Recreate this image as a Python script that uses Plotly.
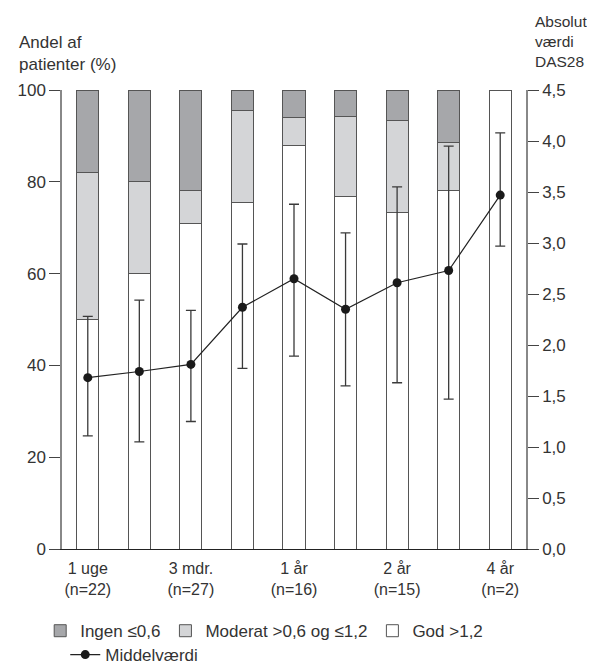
import plotly.graph_objects as go

# ---- data ----
tick_labels = ["1 uge<br>(n=22)", "", "3 mdr.<br>(n=27)", "", "1 år<br>(n=16)", "",
               "2 år<br>(n=15)", "", "4 år<br>(n=2)"]
god = [50, 60, 71, 75.5, 88, 76.8, 73.3, 78, 100]          # % God >1,2
moderat = [32, 20, 7, 20, 6, 17.4, 20, 10.5, 0]             # % Moderat
ingen = [18, 20, 22, 4.5, 6, 5.8, 6.7, 11.5, 0]             # % Ingen
mean_das = [1.68, 1.74, 1.81, 2.37, 2.65, 2.35, 2.61, 2.73, 3.47]
upper_das = [2.28, 2.44, 2.34, 2.99, 3.38, 3.10, 3.55, 3.95, 4.08]
lower_das = [1.11, 1.05, 1.25, 1.77, 1.89, 1.60, 1.63, 1.47, 2.97]

x = list(range(len(god)))
FONT = "Liberation Sans, Arial, sans-serif"
TXT = "#333333"
OUT = "#555555"
BW = 0.43

fig = go.Figure()
fig.add_bar(x=x, y=god, name="God >1,2", width=BW,
            marker=dict(color="#ffffff", line=dict(color=OUT, width=1)))
fig.add_bar(x=x, y=moderat, name="Moderat >0,6 og ≤1,2", width=BW,
            marker=dict(color="#d4d5d7", line=dict(color=OUT, width=1)))
fig.add_bar(x=x, y=ingen, name="Ingen ≤0,6", width=BW,
            marker=dict(color="#a6a7aa", line=dict(color=OUT, width=1)))
fig.add_scatter(
    x=x, y=mean_das, yaxis="y2", mode="lines+markers", name="Middelværdi",
    legend="legend2",
    line=dict(color="#222222", width=1.2),
    marker=dict(size=9, color="#1a1a1a"),
    error_y=dict(type="data", symmetric=False,
                 array=[u - m for u, m in zip(upper_das, mean_das)],
                 arrayminus=[m - l for m, l in zip(mean_das, lower_das)],
                 color="#3a3a3a", thickness=1.3, width=5),
)

fig.update_layout(
    width=587, height=658,
    margin=dict(l=54, r=69, t=82, b=117, autoexpand=False),
    barmode="stack",
    plot_bgcolor="white", paper_bgcolor="white",
    separators=", ",
    font=dict(family=FONT, size=17, color=TXT),
    xaxis=dict(range=[-0.5, 8.5], tickvals=x, ticktext=tick_labels,
               showline=True, linecolor="#222222", linewidth=1.2,
               ticks="", showgrid=False, zeroline=False,
               tickfont=dict(size=16), ticklabelstandoff=5),
    yaxis=dict(range=[0, 100], tickvals=[0, 20, 40, 60, 80, 100],
               ticks="outside", ticklen=11, tickcolor="#444444", tickwidth=1.2,
               showline=True, linecolor="#888888", linewidth=1.5,
               showgrid=False, zeroline=False),
    yaxis2=dict(overlaying="y", side="right", range=[0, 4.5], dtick=0.5,
                tickformat=".1f", ticks="outside", ticklen=11,
                tickcolor="#444444", tickwidth=1.2,
                showline=True, linecolor="#888888", linewidth=1.5,
                showgrid=False, zeroline=False),
    legend=dict(orientation="h", traceorder="reversed",
                x=-0.047, xanchor="left", y=-0.179, yanchor="middle",
                font=dict(size=17), bgcolor="rgba(0,0,0,0)"),
    legend2=dict(orientation="h", x=0.007, xanchor="left",
                 y=-0.231, yanchor="middle",
                 font=dict(size=17), bgcolor="rgba(0,0,0,0)"),
    annotations=[
        dict(text="Andel af<br>patienter (%)", xref="paper", yref="paper",
             x=-0.097, y=1, xanchor="left", yanchor="bottom", yshift=14,
             align="left", showarrow=False, font=dict(size=17)),
        dict(text="Absolut<br>værdi<br>DAS28", xref="paper", yref="paper",
             x=1.016, y=1, xanchor="left", yanchor="bottom", yshift=18,
             align="left", showarrow=False, font=dict(size=15.5)),
    ],
)

fig.write_html("out.html")
